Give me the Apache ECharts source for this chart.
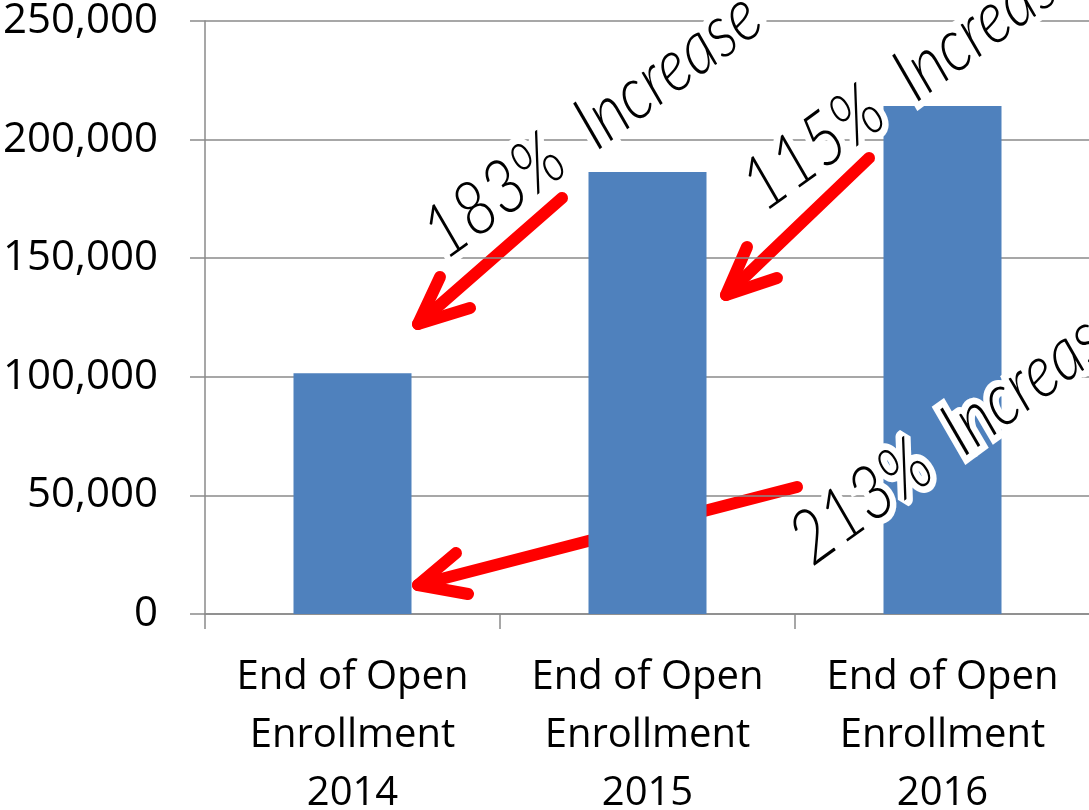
<!DOCTYPE html>
<html>
<head>
<meta charset="utf-8">
<script src="https://cdn.jsdelivr.net/npm/echarts@6/dist/echarts.min.js"></script>
<style>
  html, body { margin: 0; padding: 0; background: #fff; }
  #chart { width: 1089px; height: 810px; }
</style>
</head>
<body>
<div id="chart"></div>
<script>
// data
var categories = ["End of Open\nEnrollment\n2014", "End of Open\nEnrollment\n2015", "End of Open\nEnrollment\n2016"];
var enrollment = [101500, 186300, 214200];
var yTicks = [0, 50000, 100000, 150000, 200000, 250000];
var notes = ["183%  Increase", "115%  Increase", "213%  Increase"];

var gray = "#8a8a8a";
var red = "#ff0000";
var rot = 36 * Math.PI / 180;

// handwritten-ish note text
function note(text, x, y) {
  return {
    type: "text",
    x: x,
    y: y,
    rotation: rot,
    scaleY: 1.18,
    z: 20,
    style: {
      text: text,
      fontFamily: "Lato",
      fontStyle: "italic",
      fontWeight: 300,
      fontSize: 63,
      fill: "#000",
      stroke: "#fff",
      lineWidth: 12,
      textAlign: "left",
      textVerticalAlign: "bottom",
      shadowBlur: 5,
      shadowColor: "rgba(0,0,0,0.45)"
    }
  };
}

// red arrow: shaft + open head
function arrow(tail, tip, barb1, barb2) {
  var st = { stroke: red, lineWidth: 12, lineCap: "round", lineJoin: "round", fill: null };
  return {
    type: "group",
    z: 15,
    children: [
      { type: "polyline", shape: { points: [tail, tip] }, style: st },
      { type: "polyline", shape: { points: [barb1, tip, barb2] }, style: st }
    ]
  };
}

var myChart = echarts.init(document.getElementById("chart"));
myChart.setOption({
  animation: false,
  backgroundColor: "#fff",
  grid: { left: 205, top: 21, width: 885, height: 593, containLabel: false, outerBoundsMode: "none" },
  xAxis: {
    type: "category",
    data: categories,
    axisLine: { show: true, lineStyle: { color: gray, width: 1.5 } },
    axisTick: { show: true, length: 15, lineStyle: { color: gray, width: 1.5 } },
    axisLabel: {
      interval: 0,
      margin: 35,
      color: "#000",
      fontFamily: "Open Sans",
      fontSize: 40,
      lineHeight: 58
    }
  },
  yAxis: {
    type: "value",
    min: yTicks[0],
    max: yTicks[yTicks.length - 1],
    interval: yTicks[1] - yTicks[0],
    axisLine: { show: true, lineStyle: { color: gray, width: 1.5 } },
    axisTick: { show: true, length: 15, lineStyle: { color: gray, width: 1.5 } },
    splitLine: { show: true, lineStyle: { color: gray, width: 1.5 } },
    axisLabel: {
      margin: 47,
      color: "#000",
      fontFamily: "Open Sans",
      fontSize: 42,
      formatter: function (v) { return v.toLocaleString("en-US"); }
    }
  },
  series: [{
    type: "bar",
    data: enrollment,
    barWidth: "40%",
    itemStyle: { color: "#4f81bd" }
  }],
  graphic: [
    arrow([562, 198], [418, 324], [440, 277], [470, 308]),
    arrow([869, 158], [726, 295], [747, 247], [777, 278]),
    arrow([797, 487], [418, 585], [456, 553], [468, 594]),
    note(notes[0], 453, 272),
    note(notes[1], 772, 224),
    note(notes[2], 820, 578)
  ]
});
</script>
</body>
</html>
